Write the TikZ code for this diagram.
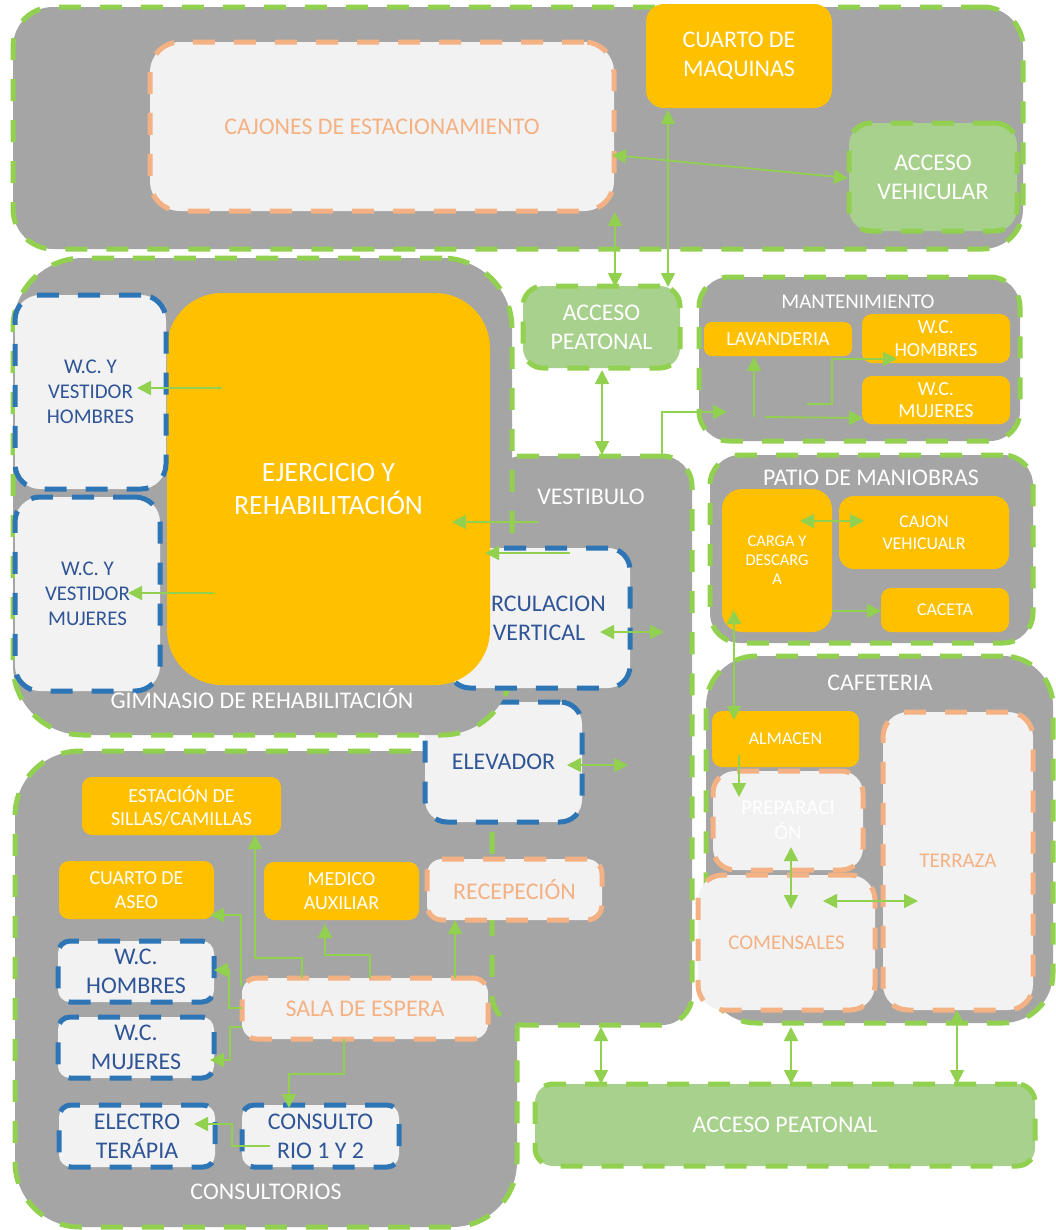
\documentclass[tikz,border=0pt]{standalone}
\usepackage{fontspec}
\setmainfont{Carlito}
\usetikzlibrary{arrows.meta}
\definecolor{zgray}{HTML}{A5A5A5}
\definecolor{lgreen}{HTML}{92D050}
\definecolor{agreen}{HTML}{A9D18E}
\definecolor{oran}{HTML}{FFC000}
\definecolor{lgray}{HTML}{F2F2F2}
\definecolor{peach}{HTML}{F4B183}
\definecolor{bblue}{HTML}{2E75B6}
\definecolor{tblue}{HTML}{2F5597}
\newcommand\fA{\fontsize{24}{29}\selectfont}
\newcommand\fB{\fontsize{21}{25}\selectfont}
\newcommand\fC{\fontsize{20}{23.5}\selectfont}
\newcommand\fG{\fontsize{20}{22.5}\selectfont}
\newcommand\fD{\fontsize{18}{22}\selectfont}
\newcommand\fE{\fontsize{16.5}{19}\selectfont}
\newcommand\fF{\fontsize{28}{34}\selectfont}
\newcommand\zbx[7]{%
  \node[#6, minimum width={((#4)-(#2))*1bp}, minimum height={((#5)-(#3))*1bp}]
    (#1) at ({((#2)+(#4))/2},{((#3)+(#5))/2}) {#7};}
\tikzset{
  base/.style={rectangle, inner sep=0pt, outer sep=0pt, align=center},
  dsh/.style={line width=5bp, dash pattern=on 22bp off 19bp},
  zone/.style={base, fill=zgray, draw=lgreen, dsh, rounded corners=#1},
  obox/.style={base, fill=oran, text=white, rounded corners=#1},
  gbox/.style={base, fill=agreen, draw=lgreen, dsh, text=white, rounded corners=#1},
  pbox/.style={base, fill=lgray, draw=peach, dsh, text=peach, rounded corners=#1},
  bbox/.style={base, fill=lgray, draw=bblue, dsh, text=tblue, rounded corners=#1},
  lbl/.style={text=white, inner sep=0pt},
  con/.style={draw=lgreen, line width=1.8bp, -{Triangle[length=14bp,width=14bp]}},
  dcon/.style={draw=lgreen, line width=1.8bp, {Triangle[length=14bp,width=14bp]}-{Triangle[length=14bp,width=14bp]}},
}
\begin{document}
\begin{tikzpicture}[x=1bp,y={(0bp,-1bp)}]
\useasboundingbox (0,0) rectangle (1056,1230);
% ---- top zone
\zbx{top}{13}{7}{1023}{249}{zone=40bp}{}
\zbx{cajones}{150}{42}{614}{211}{pbox=30bp,font=\fA}{CAJONES DE ESTACIONAMIENTO}
\zbx{cuarto}{646}{4}{832}{108}{obox=18bp,font=\fA}{CUARTO DE\\MAQUINAS}
\zbx{accveh}{849}{123}{1017}{231}{gbox=22bp,font=\fA}{ACCESO\\VEHICULAR}
\zbx{accpeat}{523}{286}{680}{368}{gbox=20bp,font=\fA}{ACCESO\\PEATONAL}
% ---- mantenimiento
\zbx{mant}{699}{277}{1020}{441}{zone=30bp}{}
\zbx{lav}{704}{322}{852}{356}{obox=8bp,font=\fC}{LAVANDERIA}
\zbx{wchm}{862}{314}{1010}{363}{obox=10bp,font=\fG}{W.C.\\HOMBRES}
\zbx{wcmm}{862}{376}{1010}{424}{obox=10bp,font=\fG}{W.C.\\MUJERES}
% ---- patio
\zbx{patio}{710}{455}{1033}{643}{zone=30bp}{}
\zbx{carga}{722}{489}{832}{632}{obox=20bp,font=\fE}{CARGA Y\\DESCARG\\A}
\zbx{cajonv}{839}{496}{1009}{569}{obox=15bp,font=\fD}{CAJON\\VEHICUALR}
\zbx{caceta}{881}{588}{1009}{632}{obox=10bp,font=\fD}{CACETA}
% ---- cafeteria
\zbx{cafe}{706}{656}{1053}{1023}{zone=50bp}{}
\zbx{almacen}{712}{711}{859}{767}{obox=10bp,font=\fD}{ALMACEN}
\zbx{prep}{713}{771}{863}{870}{pbox=22bp,text=white,font=\fB}{PREPARACI\\ÓN}
\zbx{terraza}{883}{712}{1033}{1010}{pbox=25bp,font=\fB}{TERRAZA}
\zbx{comens}{698}{875}{875}{1010}{pbox=25bp,font=\fB}{COMENSALES}
% ---- consultorios, vestibulo, gimnasio
\zbx{cons}{15}{751}{517}{1227}{zone=65bp}{}
\zbx{vest}{492}{456}{692}{1025}{zone=30bp}{}
\zbx{elev}{425}{702}{582}{822}{bbox=22bp,font=\fA}{ELEVADOR}
\zbx{gym}{13}{258}{512}{735}{zone=70bp}{}
\zbx{circ}{448}{548}{630}{688}{bbox=22bp,font=\fA}{CIRCULACION\\VERTICAL}
\zbx{ejer}{167}{293}{490}{685}{obox=55bp,font=\fF}{EJERCICIO Y\\REHABILITACIÓN}
\zbx{wcvh}{15}{295}{166}{489}{bbox=25bp,font=\fB}{W.C. Y\\VESTIDOR\\HOMBRES}
\zbx{wcvm}{15}{497}{160}{691}{bbox=25bp,font=\fB}{W.C. Y\\VESTIDOR\\MUJERES}
% ---- consultorios content
\zbx{estacion}{82}{777}{281}{835}{obox=10bp,font=\fC}{ESTACIÓN DE\\SILLAS/CAMILLAS}
\zbx{aseo}{59}{861}{214}{919}{obox=10bp,font=\fC}{CUARTO DE\\ASEO}
\zbx{medico}{264}{862}{419}{920}{obox=10bp,font=\fC}{MEDICO\\AUXILIAR}
\zbx{recep}{427}{859}{602}{920}{pbox=15bp,font=\fA}{RECEPECIÓN}
\zbx{wchc}{58}{941}{214}{1002}{bbox=12bp,font=\fA}{W.C.\\HOMBRES}
\zbx{wcmc}{58}{1017}{214}{1078}{bbox=12bp,font=\fA}{W.C.\\MUJERES}
\zbx{sala}{242}{978}{488}{1039}{pbox=15bp,font=\fA}{SALA DE ESPERA}
\zbx{electro}{59}{1105}{215}{1167}{bbox=12bp,font=\fA}{ELECTRO\\TERÁPIA}
\zbx{consul}{242}{1105}{399}{1167}{bbox=12bp,font=\fA}{CONSULTO\\RIO 1 Y 2}
\zbx{accpb}{535}{1084}{1035}{1166}{gbox=18bp,font=\fA}{ACCESO PEATONAL}
% ---- zone labels
\node[lbl,font=\fB] (mantl) at (858,302) {MANTENIMIENTO};
\node[lbl,font=\fA] (patiol) at (871,478) {PATIO DE MANIOBRAS};
\node[lbl,font=\fA] (cafel) at (880,683) {CAFETERIA};
\node[lbl,font=\fA] (vestl) at (591,497) {VESTIBULO};
\node[lbl,font=\fA] (gyml) at (262,699) {GIMNASIO DE REHABILITACIÓN};
\node[lbl,font=\fA] (consl) at (266,1192) {CONSULTORIOS};
% ---- connector end points
\coordinate (a1s) at (612,155); \coordinate (a1e) at (848,178);
\coordinate (a2s) at (668,110); \coordinate (a2e) at (668,287);
\coordinate (a3s) at (615,212); \coordinate (a3e) at (615,287);
\coordinate (a4s) at (602,370); \coordinate (a4e) at (602,455);
\coordinate (a5s) at (662,456); \coordinate (a5e) at (727,412);
\coordinate (a6s) at (754,417); \coordinate (a6e) at (754,357);
\coordinate (a7s) at (765,417); \coordinate (a7e) at (863,418);
\coordinate (a8s) at (807,404); \coordinate (a8e) at (897,359);
\coordinate (a9s) at (800,521); \coordinate (a9e) at (864,521);
\coordinate (a10s) at (832,611); \coordinate (a10e) at (881,611);
\coordinate (a11s) at (734,610); \coordinate (a11e) at (734,720);
\coordinate (a12s) at (739,755); \coordinate (a12e) at (739,797);
\coordinate (a13s) at (791,847); \coordinate (a13e) at (791,909);
\coordinate (a14s) at (823,901); \coordinate (a14e) at (918,901);
\coordinate (a15s) at (601,1027); \coordinate (a15e) at (601,1084);
\coordinate (a16s) at (791,1027); \coordinate (a16e) at (791,1084);
\coordinate (a17s) at (957,1010); \coordinate (a17e) at (957,1084);
\coordinate (a18s) at (538,522); \coordinate (a18e) at (452,522);
\coordinate (a19s) at (570,553); \coordinate (a19e) at (485,553);
\coordinate (a20s) at (600,632); \coordinate (a20e) at (664,632);
\coordinate (a21s) at (567,765); \coordinate (a21e) at (628,765);
\coordinate (a22s) at (222,388); \coordinate (a22e) at (137,388);
\coordinate (a23s) at (214,593); \coordinate (a23e) at (128,593);
\coordinate (c1s) at (302,978); \coordinate (c1e) at (255,835);
\coordinate (c2s) at (370,978); \coordinate (c2e) at (325,924);
\coordinate (c3s) at (455,978); \coordinate (c3e) at (455,920);
\coordinate (c4s) at (242,1008); \coordinate (c4e) at (214,970);
\coordinate (c5s) at (241,986); \coordinate (c5e) at (210,915);
\coordinate (c6s) at (242,1027); \coordinate (c6e) at (210,1060);
\coordinate (c7s) at (344,1039); \coordinate (c7e) at (289,1108);
\coordinate (c8s) at (270,1146); \coordinate (c8e) at (194,1124);
% ---- connectors
\draw[dcon] (a1s) -- (a1e);
\draw[dcon] (a2s) -- (a2e);
\draw[dcon] (a3s) -- (a3e);
\draw[dcon] (a4s) -- (a4e);
\draw[con] (a5s) |- (a5e);
\draw[con] (a6s) -- (a6e);
\draw[con] (a7s) -- (a7e);
\draw[con] (a8s) -- ++(25,0) |- (a8e);
\draw[dcon] (a9s) -- (a9e);
\draw[con] (a10s) -- (a10e);
\draw[dcon] (a11s) -- (a11e);
\draw[con] (a12s) -- (a12e);
\draw[dcon] (a13s) -- (a13e);
\draw[dcon] (a14s) -- (a14e);
\draw[dcon] (a15s) -- (a15e);
\draw[dcon] (a16s) -- (a16e);
\draw[dcon] (a17s) -- (a17e);
\draw[con] (a18s) -- (a18e);
\draw[con] (a19s) -- (a19e);
\draw[dcon] (a20s) -- (a20e);
\draw[dcon] (a21s) -- (a21e);
\draw[con] (a22s) -- (a22e);
\draw[con] (a23s) -- (a23e);
\draw[con] (c1s) -- ++(0,-20) -| (c1e);
\draw[con] (c2s) -- ++(0,-23) -| (c2e);
\draw[con] (c3s) -- (c3e);
\draw[con] (c4s) -- ++(-13,0) |- (c4e);
\draw[con] (c5s) |- (c5e);
\draw[con] (c6s) -- ++(-12,0) |- (c6e);
\draw[con] (c7s) -- ++(0,35) -| (c7e);
\draw[con] (c8s) -- ++(-38,0) |- (c8e);
\end{tikzpicture}
\end{document}
